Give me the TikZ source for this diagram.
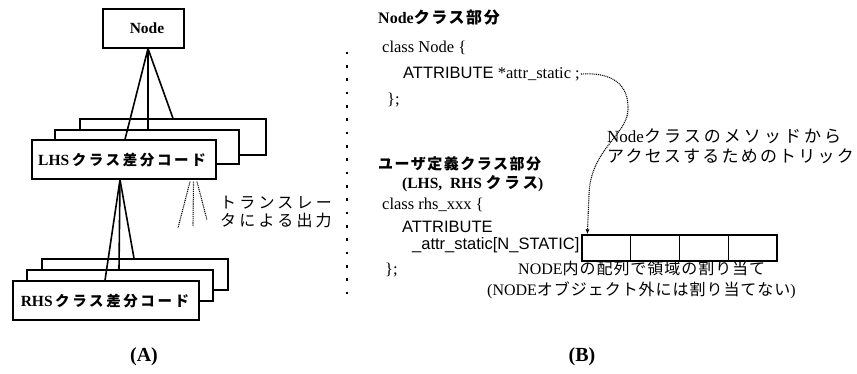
\documentclass[tikz,border=0pt]{standalone}
\usepackage{fontspec}
\setmainfont{Liberation Serif}
\newfontfamily\jp{Noto Sans CJK JP}
\newfontfamily\sansf{Liberation Sans}
\usetikzlibrary{arrows.meta}
\newcommand\jps[2]{{\jp\addfontfeatures{LetterSpace=#1}#2}}
\newcommand\fs[1]{\fontsize{#1}{#1}\selectfont}
\begin{document}
\begin{tikzpicture}[x=1pt,y=-1pt,
  box/.style={draw, line width=1.3pt, fill=white, inner sep=0pt},
  link/.style={line width=1.6pt},
  dotl/.style={line width=1.1pt, dash pattern=on 1pt off 0.9pt},
  txt/.style={inner sep=0pt, anchor=west},
  cell/.style={draw, line width=1.4pt, minimum width=48.75pt, minimum height=26pt, inner sep=0pt}]
\useasboundingbox (0,0) rectangle (857,374);

% ---------- (A) ----------
\node[box, minimum width=81pt, minimum height=39pt] (nb) at (143.5,28.5) {};
\node[inner sep=0pt] (nbt) at (147,28) {\fs{15.5}\bfseries Node};

\node[box, minimum width=186pt, minimum height=36pt] (lb3) at (173,137) {};
\node[box, minimum width=184pt, minimum height=34pt] (lb2) at (147,147) {};
\node[box, minimum width=184pt, minimum height=39pt] (lb1) at (124,159.5) {};
\node[inner sep=0pt] (lbt) at (122,160) {\fs{15.5}\bfseries LHS\,\fs{14.5}\jps{18}{\bfseries クラス差分コード}};

\draw[link] ([xshift=4.5pt]nb.south) -- ([xshift=1pt]lb1.north);
\draw[link] ([xshift=4.5pt]nb.south) -- ([xshift=1pt]lb2.north);
\draw[link] ([xshift=4.5pt]nb.south) -- (lb3.north);

\node[box, minimum width=186pt, minimum height=31pt] (rb3) at (135,274.5) {};
\node[box, minimum width=186pt, minimum height=31pt] (rb2) at (120,285.5) {};
\node[box, minimum width=186pt, minimum height=39pt] (rb1) at (106,300.5) {};
\node[inner sep=0pt] (rbt) at (105,301) {\fs{15.5}\bfseries RHS\,\fs{14.5}\jps{18}{\bfseries クラス差分コード}};

\draw[link] ([xshift=-4pt]lb1.south) -- ([xshift=-1pt]rb1.north);
\draw[link] ([xshift=-4pt]lb1.south) -- ([xshift=-1pt]rb2.north);
\draw[link] ([xshift=-4pt]lb1.south) -- ([xshift=-1pt]rb3.north);

\coordinate (d1) at (178,228);
\coordinate (d2) at (193,226);
\coordinate (d3) at (207,220);
\draw[dotl] ([xshift=66pt,yshift=-2pt]lb1.south) -- (d1);
\draw[dotl] ([xshift=69.5pt,yshift=-2pt]lb1.south) -- (d2);
\draw[dotl] ([xshift=73pt,yshift=-2pt]lb1.south) -- (d3);

\node[txt] (tr1) at (220,203) {\fs{16}\jps{20}{トランスレー}};
\node[txt] (tr2) at (220,220) {\fs{16}\jps{20}{タによる出力}};

\node (la) at (144,357) {\fs{20}\bfseries (A)};

% separator
\foreach \i in {0,...,18} \fill (346.2,{53+\i*13.33-1.4}) rectangle (347.8,{53+\i*13.33+1.4});

% ---------- (B) ----------
\node[txt] (h1) at (378,18) {\fs{16}\bfseries Node\jps{10}{\bfseries クラス部分}};
\node[txt] (c1) at (382,48) {\fs{16.5}class Node \{};
\node[txt] (c2) at (403,74) {\fs{16.5}{\sansf ATTRIBUTE} *attr\_static ;};
\node[txt] (c3) at (387,100) {\fs{16.5}\};};

\node[txt] (h2) at (378,164) {\fs{15}\jps{10}{\bfseries ユーザ定義クラス部分}};
\node[txt] (h3) at (402,184) {\fs{15.5}\bfseries (LHS, \ RHS \jps{20}{\bfseries クラス})};
\node[txt] (c4) at (382,205) {\fs{16.5}class rhs\_xxx \{};
\node[txt] (c5) at (402,227) {\fs{16.5}\sansf ATTRIBUTE};
\node[txt] (c6) at (412,245) {\fs{16.5}\sansf \_attr\_static[N\_STATIC]};
\node[txt] (c7) at (385,270) {\fs{16.5}\};};

\node[cell] (a1) at (606.4,248) {};
\node[cell] (a2) at (655.1,248) {};
\node[cell] (a3) at (703.9,248) {};
\node[cell] (a4) at (752.6,248) {};

\node[txt] (m1) at (607,136) {\fs{17}Node\jps{18}{クラスのメソッドから}};
\node[txt] (m2) at (607,156) {\fs{17}\jps{13}{アクセスするためのトリック}};

\node[txt] (n1) at (518,268) {\fs{16}NODE\jps{6}{内の配列で領域の割り当て}};
\node[txt] (n2) at (487,290) {\fs{16}(NODE\jps{6}{オブジェクト外には割り当てない})};

\node (lbb) at (582,357) {\fs{20}\bfseries (B)};

\draw[dotl, -{Latex[length=5pt,width=4pt]}] ([xshift=1pt]c2.east) .. controls (612,72) and (629,84) .. (628,110)
  .. controls (627,135) and (590,150) .. (589,195) -- ([xshift=6pt]a1.north west);
\end{tikzpicture}
\end{document}
